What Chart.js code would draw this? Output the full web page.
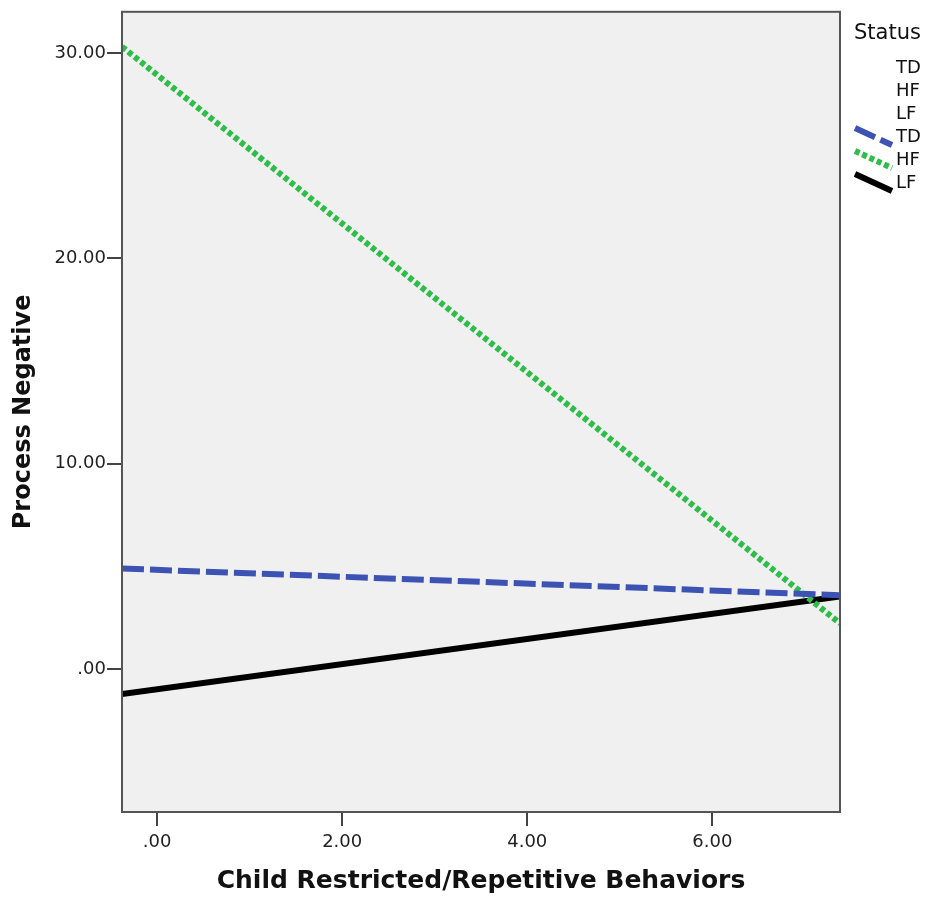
<!DOCTYPE html>
<html>
<head>
<meta charset="utf-8">
<script src="https://cdn.jsdelivr.net/npm/chart.js@4.4.0/dist/chart.umd.min.js"></script>
<style>
  html, body { margin: 0; padding: 0; background: #fff; }
  #wrap { width: 927px; height: 897px; }
</style>
</head>
<body>
<div id="wrap"><canvas id="fitChart" width="927" height="897"></canvas></div>
<script>
"use strict";

// fit line end points (x at left and right edge of the plot)
var xEnds = [-0.38, 7.38];
var tdValues = [4.9, 3.6];
var hfValues = [30.3, 2.23];
var lfValues = [-1.21, 3.54];
var statusLabels = ["TD", "HF", "LF"];
var xTicks = [0, 2, 4, 6];
var yTicks = [0, 10, 20, 30];

function fmt(v) {
    return v === 0 ? ".00" : v.toFixed(2);
}

function pts(ys) {
    return xEnds.map(function (x, i) { return {x: x, y: ys[i]}; });
}

var tickFont = {family: "'DejaVu Sans', sans-serif", size: 18};

// background + frame of the plot area
var frame = {
    id: "frame",
    beforeDatasetsDraw: function (chart) {
        var a = chart.chartArea, c = chart.ctx;
        c.save();
        c.fillStyle = "#f0f0f0";
        c.fillRect(a.left, a.top, a.right - a.left, a.bottom - a.top);
        c.restore();
    },
    afterDatasetsDraw: function (chart) {
        var a = chart.chartArea, c = chart.ctx;
        c.save();
        c.strokeStyle = "#555";
        c.lineWidth = 2;
        c.strokeRect(a.left, a.top, a.right - a.left, a.bottom - a.top);
        c.restore();
    }
};

// SPSS style legend at the right
var statusLegend = {
    id: "statusLegend",
    afterDraw: function (chart) {
        var c = chart.ctx;
        c.save();
        c.fillStyle = "#111";
        c.font = "21px 'DejaVu Sans', sans-serif";
        c.textBaseline = "middle";
        c.fillText("Status", 854, 34);
        c.font = "18px 'DejaVu Sans', sans-serif";
        var y = 68;
        statusLabels.forEach(function (l) {
            c.fillText(l, 896, y);
            y += 23;
        });
        chart.data.datasets.forEach(function (ds) {
            c.strokeStyle = ds.borderColor;
            c.lineWidth = ds.borderWidth;
            c.setLineDash(ds.borderDash || []);
            c.beginPath();
            c.moveTo(855, y - 9);
            c.lineTo(892, y + 8);
            c.stroke();
            c.fillText(ds.label, 896, y);
            y += 23;
        });
        c.restore();
    }
};

new Chart(document.getElementById("fitChart").getContext("2d"), {
    type: "line",
    data: {
        datasets: [
            {label: "TD", data: pts(tdValues), borderColor: "#3d53b3", borderWidth: 6, borderDash: [22, 6]},
            {label: "HF", data: pts(hfValues), borderColor: "#2fbd4a", borderWidth: 6, borderDash: [5, 3]},
            {label: "LF", data: pts(lfValues), borderColor: "#000000", borderWidth: 6}
        ]
    },
    options: {
        responsive: false,
        animation: false,
        events: [],
        layout: {padding: {top: 10, right: 87, left: 0, bottom: 0}},
        elements: {point: {radius: 0}, line: {tension: 0, borderCapStyle: "butt"}},
        plugins: {legend: {display: false}, tooltip: {enabled: false}},
        scales: {
            x: {
                type: "linear",
                min: xEnds[0],
                max: xEnds[1],
                afterBuildTicks: function (s) { s.ticks = xTicks.map(function (v) { return {value: v}; }); },
                afterFit: function (s) { s.height = 85; },
                grid: {drawOnChartArea: false, drawTicks: true, tickLength: 14, color: "#444", lineWidth: 2},
                border: {display: false},
                ticks: {font: tickFont, color: "#222", padding: 6, maxRotation: 0, callback: fmt},
                title: {display: true, text: "Child Restricted/Repetitive Behaviors", font: {family: "'DejaVu Sans', sans-serif", size: 25, weight: "bold"}, color: "#111", padding: {top: 6, bottom: 1}}
            },
            y: {
                min: -6.95,
                max: 32.0,
                afterBuildTicks: function (s) { s.ticks = yTicks.map(function (v) { return {value: v}; }); },
                afterFit: function (s) { s.width = 122; },
                grid: {drawOnChartArea: false, drawTicks: true, tickLength: 15, color: "#444", lineWidth: 2},
                border: {display: false},
                ticks: {font: tickFont, color: "#222", padding: 1, callback: fmt},
                title: {display: true, text: "Process Negative", font: {family: "'DejaVu Sans', sans-serif", size: 24, weight: "bold"}, color: "#111", padding: {top: 9, bottom: 0}}
            }
        }
    },
    plugins: [frame, statusLegend]
});
</script>
</body>
</html>
